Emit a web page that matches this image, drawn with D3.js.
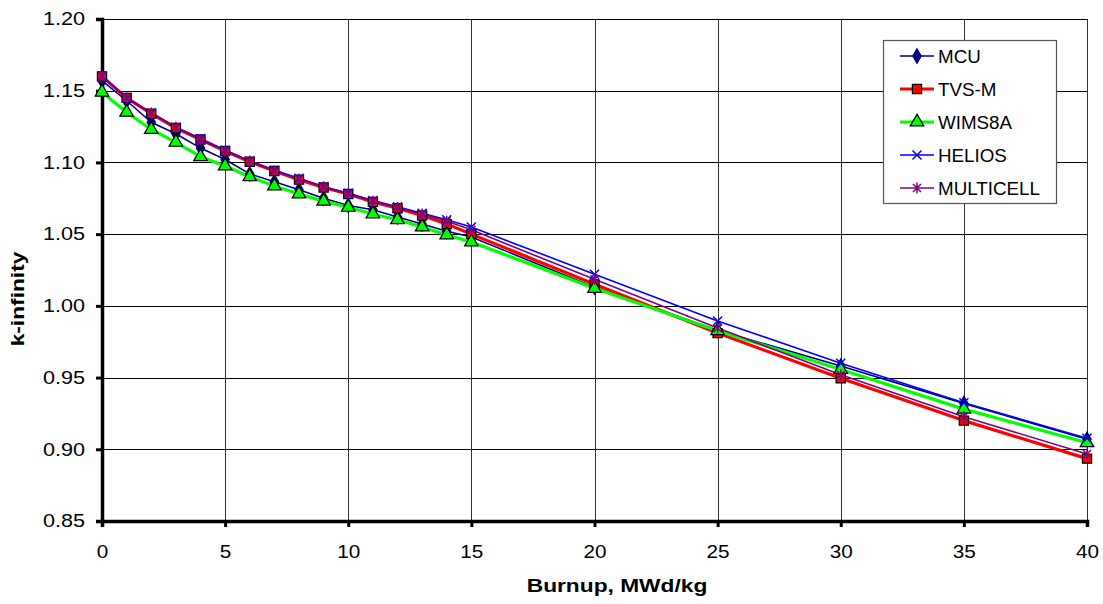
<!DOCTYPE html>
<html>
<head>
<meta charset="utf-8">
<script src="https://cdn.jsdelivr.net/npm/d3@7"></script>
<style>
  html, body { margin: 0; padding: 0; background: #fff; }
  svg { display: block; }
  text { font-family: "Liberation Sans", Arial, sans-serif; }
</style>
</head>
<body>
<svg id="chart" width="1103" height="604"></svg>
<script>
// ---- data ----
const burnup = [0, 1, 2, 3, 4, 5, 6, 7, 8, 9, 10, 11, 12, 13, 14, 15, 20, 25, 30, 35, 40];
const mcu =       [1.157, 1.143, 1.128, 1.120, 1.110, 1.102, 1.092, 1.0866, 1.081, 1.075, 1.070, 1.067, 1.062, 1.057, 1.052, 1.048, 1.013, 0.983, 0.958, 0.932, 0.907];
const tvsm =      [1.160, 1.145, 1.134, 1.124, 1.116, 1.108, 1.1005, 1.094, 1.088, 1.0825, 1.078, 1.0725, 1.068, 1.063, 1.057, 1.050, 1.015, 0.981, 0.9495, 0.920, 0.8935];
const wims8a =    [1.149, 1.135, 1.123, 1.114, 1.104, 1.0975, 1.090, 1.0836, 1.078, 1.073, 1.0687, 1.064, 1.060, 1.055, 1.0495, 1.0445, 1.0122, 0.9827, 0.9556, 0.928, 0.9046];
const helios =    [1.160, 1.145, 1.1345, 1.1245, 1.1165, 1.1085, 1.101, 1.0945, 1.089, 1.083, 1.0785, 1.0735, 1.069, 1.0645, 1.060, 1.055, 1.022, 0.9895, 0.960, 0.9325, 0.9077];
const multicell = [1.160, 1.145, 1.1345, 1.1245, 1.116, 1.108, 1.101, 1.094, 1.0885, 1.083, 1.078, 1.073, 1.0685, 1.064, 1.059, 1.053, 1.0185, 0.9845, 0.952, 0.9227, 0.8967];
const seriesNames = ["MCU", "TVS-M", "WIMS8A", "HELIOS", "MULTICELL"];
const xTicks = [0, 5, 10, 15, 20, 25, 30, 35, 40];
const yTicks = [0.85, 0.90, 0.95, 1.00, 1.05, 1.10, 1.15, 1.20];
const xTitle = "Burnup, MWd/kg";
const yTitle = "k-infinity";

// ---- styles ----
const styles = [
  { line: "#000080", width: 1.6, marker: "diamond", fill: "#000080", stroke: "#000080" },
  { line: "#FF0000", width: 3.2, marker: "square", fill: "#FF0000", stroke: "#000000" },
  { line: "#00FF00", width: 3.2, marker: "triangle", fill: "#00FF00", stroke: "#000000" },
  { line: "#0000FF", width: 1.6, marker: "x", fill: "none", stroke: "#0000FF" },
  { line: "#800080", width: 1.6, marker: "star", fill: "none", stroke: "#800080" }
];
const allValues = [mcu, tvsm, wims8a, helios, multicell];

const svg = d3.select("#chart");
const x = d3.scaleLinear().domain([0, 40]).range([102, 1087]);
const y = d3.scaleLinear().domain([0.85, 1.20]).range([521, 19]);

// gridlines
svg.append("g").selectAll("line").data(yTicks.filter(v => v > 0.85))
  .join("line")
  .attr("x1", x(0)).attr("x2", x(40))
  .attr("y1", d => Math.round(y(d)) + 0.5).attr("y2", d => Math.round(y(d)) + 0.5)
  .attr("stroke", "#000").attr("stroke-width", 1);
svg.append("g").selectAll("line").data(xTicks.filter(v => v > 0))
  .join("line")
  .attr("x1", d => Math.round(x(d)) + 0.5).attr("x2", d => Math.round(x(d)) + 0.5)
  .attr("y1", y(0.85)).attr("y2", y(1.20))
  .attr("stroke", "#333").attr("stroke-width", 1);

// axes
const xAxis = d3.axisBottom(x).tickValues(xTicks).tickSize(6).tickPadding(18).tickFormat(d3.format("d"));
const yAxis = d3.axisLeft(y).tickValues(yTicks).tickSize(6).tickPadding(10).tickFormat(d3.format(".2f"));

const gx = svg.append("g").attr("transform", `translate(0,${y(0.85)})`).call(xAxis);
const gy = svg.append("g").attr("transform", `translate(${x(0)},0)`).call(yAxis);
[gx, gy].forEach(g => {
  g.select(".domain").attr("stroke", "#000").attr("stroke-width", 3.5);
  g.selectAll(".tick line").attr("stroke", "#000").attr("stroke-width", 3);
  g.selectAll(".tick text").attr("fill", "#000").attr("font-size", 18)
    .attr("font-family", "Liberation Sans, Arial, sans-serif");
});
gx.selectAll(".tick text").each(function() {
  d3.select(this).attr("transform", "scale(1.15,1)").attr("x", 0);
});
gy.selectAll(".tick text").attr("text-anchor", "end").each(function() {
  d3.select(this).attr("x", -17 / 1.2).attr("transform", "scale(1.2,1)");
});

// titles
svg.append("text").attr("transform", `translate(617,592) scale(1.3,1)`)
  .attr("text-anchor", "middle").attr("font-weight", "bold").attr("font-size", 17.5)
  .text(xTitle);
svg.append("text").attr("transform", `translate(24,299) rotate(-90) scale(1.3,1)`)
  .attr("text-anchor", "middle").attr("font-weight", "bold").attr("font-size", 17.5)
  .text(yTitle);

// marker paths
function markerPath(type) {
  switch (type) {
    case "diamond": return d3.symbol(d3.symbolDiamond, 60)();
    case "square": return d3.symbol(d3.symbolSquare, 85)();
    case "triangle": return d3.symbol(d3.symbolTriangle, 80)();
    case "x": return "M-4.5,-4.5L4.5,4.5M-4.5,4.5L4.5,-4.5";
    case "star": return "M-4,-4L4,4M-4,4L4,-4M0,-5.5L0,5.5";
  }
}

const line = d3.line().x((d, i) => x(burnup[i])).y(d => y(d));

// lines
allValues.forEach((vals, k) => {
  svg.append("path").datum(vals)
    .attr("d", line).attr("fill", "none")
    .attr("stroke", styles[k].line).attr("stroke-width", styles[k].width)
    .attr("stroke-linejoin", "round");
});
// markers
allValues.forEach((vals, k) => {
  const s = styles[k];
  svg.append("g").selectAll("path").data(vals).join("path")
    .attr("transform", (d, i) => `translate(${x(burnup[i])},${y(d)})`)
    .attr("d", markerPath(s.marker))
    .attr("fill", s.fill).attr("stroke", s.stroke)
    .attr("stroke-width", s.marker === "x" || s.marker === "star" ? 1.5 : 1.2);
});

// legend
const lg = svg.append("g");
lg.append("rect").attr("x", 883.5).attr("y", 40.5).attr("width", 173).attr("height", 163)
  .attr("fill", "#fff").attr("stroke", "#555").attr("stroke-width", 1.2);
const legendY = [56, 89, 122, 155, 188];
seriesNames.forEach((name, k) => {
  const s = styles[k];
  const yy = legendY[k];
  lg.append("line").attr("x1", 900).attr("x2", 934).attr("y1", yy).attr("y2", yy)
    .attr("stroke", s.line).attr("stroke-width", s.width);
  lg.append("path").attr("transform", `translate(917,${yy})`).attr("d", markerPath(s.marker))
    .attr("fill", s.fill).attr("stroke", s.stroke)
    .attr("stroke-width", s.marker === "x" || s.marker === "star" ? 1.5 : 1.2);
  lg.append("text").attr("x", 938).attr("y", yy).attr("dy", "0.36em")
    .attr("font-size", 18.8).attr("fill", "#000").text(name);
});
</script>
</body>
</html>
